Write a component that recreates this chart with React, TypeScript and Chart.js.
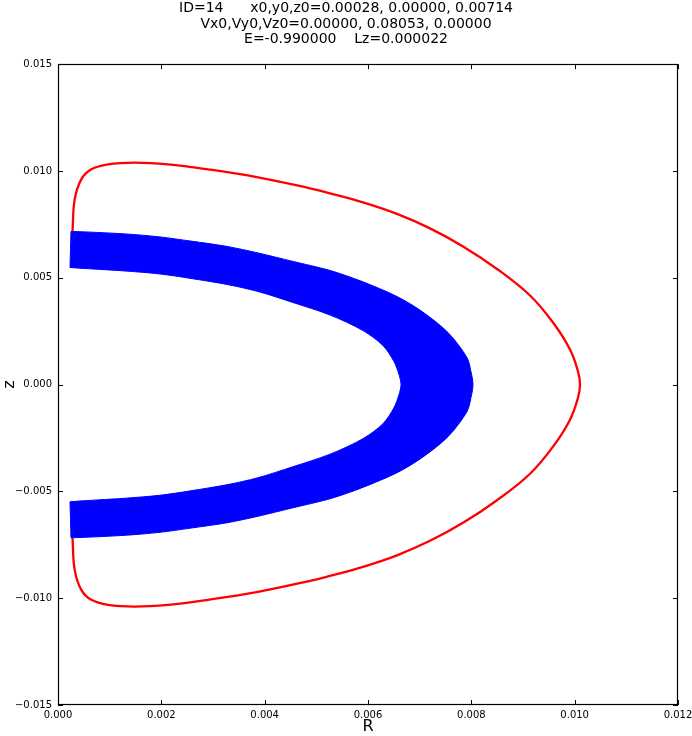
import React, { useEffect, useRef } from "react";
import { Chart, registerables } from "chart.js";

Chart.register(...registerables);

// Title lines
const titleLines = [
  "ID=14      x0,y0,z0=0.00028, 0.00000, 0.00714",
  "Vx0,Vy0,Vz0=0.00000, 0.08053, 0.00000",
  "E=-0.990000    Lz=0.000022",
];

// Axis ticks
const xTickMin = 0;
const xTickMax = 0.012;
const xTickStep = 0.002;
const yTickMin = -0.015;
const yTickMax = 0.015;
const yTickStep = 0.005;

// Red curve (zero-velocity boundary), top half then bottom half
const redR = [
  0.00028, 0.000323, 0.000451, 0.000645, 0.000968, 0.001485, 0.002129, 0.002903, 0.003871, 0.004839,
  0.005265, 0.005903, 0.006561, 0.0072, 0.007839, 0.008497, 0.009136, 0.009581, 0.00991, 0.010065, 0.010103,
  0.010065, 0.00991, 0.009581, 0.009136, 0.008497, 0.007839, 0.0072, 0.006561, 0.005903, 0.005265,
  0.004839, 0.003871, 0.002903, 0.002129, 0.001485, 0.000968, 0.000645, 0.000451, 0.000323, 0.00028,
];
const redZ = [
  0.00714, 0.008672, 0.009609, 0.010078, 0.010313, 0.010392, 0.010313, 0.010078, 0.009703, 0.00921,
  0.008953, 0.008531, 0.007992, 0.007313, 0.006469, 0.005414, 0.004172, 0.002906, 0.001641, 0.000609, 0.0,
  -0.000609, -0.001641, -0.002906, -0.004172, -0.005414, -0.006469, -0.007313, -0.007992, -0.008531, -0.008953,
  -0.00921, -0.009703, -0.010078, -0.010313, -0.010392, -0.010313, -0.010078, -0.009609, -0.008672, -0.00714,
];

// Blue orbit band: outer edge (top -> right -> bottom), ending just down the left edge
const bandOuterR = [
  0.000251, 0.000252, 0.001297, 0.001974, 0.002574, 0.003271, 0.003871, 0.004548, 0.005265, 0.005884, 0.006561,
  0.007045, 0.007548, 0.007916, 0.007993, 0.008032,
  0.007993, 0.007916, 0.007548, 0.007045, 0.006561, 0.005884, 0.005265, 0.004548, 0.003871, 0.003271,
  0.002574, 0.001974, 0.001297, 0.000252, 0.000251,
];
const bandOuterZ = [
  0.00713, 0.007172, 0.007055, 0.006914, 0.006717, 0.006469, 0.006164, 0.005766, 0.005344, 0.004828, 0.004125,
  0.003422, 0.002438, 0.001266, 0.000609, 0.0,
  -0.000609, -0.001266, -0.002438, -0.003422, -0.004125, -0.004828, -0.005344, -0.005766, -0.006164, -0.006469,
  -0.006717, -0.006914, -0.007055, -0.007172, -0.00713,
];
// Blue orbit band: inner edge (bottom -> right -> top)
const bandInnerR = [
  0.000233, 0.000232, 0.001297, 0.001974, 0.002574, 0.003271, 0.003871, 0.004548, 0.005265, 0.005903, 0.00629,
  0.006503, 0.0066, 0.006639,
  0.0066, 0.006503, 0.00629, 0.005903, 0.005265, 0.004548, 0.003871, 0.003271, 0.002574, 0.001974,
  0.001297, 0.000232, 0.000233,
];
const bandInnerZ = [
  -0.00553, -0.005484, -0.00532, -0.00518, -0.004969, -0.004688, -0.004359, -0.003844, -0.003258, -0.002531, -0.001828,
  -0.001078, -0.000469, 0.0,
  0.000469, 0.001078, 0.001828, 0.002531, 0.003258, 0.003844, 0.004359, 0.004688, 0.004969, 0.00518,
  0.00532, 0.005484, 0.00553,
];

const toPts = (xs: number[], ys: number[]) => xs.map((x, i) => ({ x, y: ys[i] }));

const fmt = (v: number) => {
  const s = Number(v).toFixed(3);
  return s.startsWith("-") ? "\u2212" + s.slice(1) : s;
};

const frameTicks = {
  id: "frameTicks",
  afterDatasetsDraw(chart: any) {
    const { ctx, chartArea: a, scales } = chart;
    ctx.save();
    ctx.strokeStyle = "#000";
    ctx.lineWidth = 1;
    ctx.beginPath();
    const len = 5;
    for (const t of scales.x.ticks) {
      const px = Math.round(scales.x.getPixelForValue(t.value)) + 0.5;
      ctx.moveTo(px, a.bottom);
      ctx.lineTo(px, a.bottom - len);
      ctx.moveTo(px, a.top);
      ctx.lineTo(px, a.top + len);
    }
    for (const t of scales.y.ticks) {
      const py = Math.round(scales.y.getPixelForValue(t.value)) + 0.5;
      ctx.moveTo(a.left, py);
      ctx.lineTo(a.left + len, py);
      ctx.moveTo(a.right, py);
      ctx.lineTo(a.right - len, py);
    }
    ctx.stroke();
    ctx.lineWidth = 1.2;
    ctx.strokeRect(Math.round(a.left) + 0.5, Math.round(a.top) + 0.5, Math.round(a.width) - 1, Math.round(a.height) - 1);
    ctx.restore();
  },
};

export default function App() {
  const ref = useRef<HTMLCanvasElement>(null);
  useEffect(() => {
    document.body.style.margin = "0";
    const bandData = toPts(bandOuterR, bandOuterZ).concat(toPts(bandInnerR, bandInnerZ));
    bandData.push({ x: bandOuterR[0], y: bandOuterZ[0] });
    const chart = new Chart(ref.current as HTMLCanvasElement, {
      type: "line",
      data: {
        datasets: [
          {
            data: bandData,
            borderColor: "#0000ff",
            backgroundColor: "#0000ff",
            borderWidth: 1,
            fill: "shape",
            tension: 0.3,
            pointRadius: 0,
          } as any,
          {
            data: toPts(redR, redZ),
            borderColor: "#ff0000",
            borderWidth: 2.3,
            fill: false,
            tension: 0.4,
            pointRadius: 0,
          },
        ],
      },
      options: {
        responsive: false,
        animation: false,
        events: [],
        layout: { padding: { top: 0, left: 0, right: 0, bottom: 0 } },
        plugins: {
          legend: { display: false },
          tooltip: { enabled: false },
          title: {
            display: true,
            text: titleLines,
            color: "#000",
            font: { family: "DejaVu Sans", size: 14, weight: "normal", lineHeight: 1.1 },
            padding: { top: 1, bottom: 17 },
          },
        },
        scales: {
          x: {
            type: "linear",
            min: xTickMin,
            max: xTickMax,
            grid: { display: false, drawTicks: false },
            border: { display: false },
            ticks: {
              stepSize: xTickStep,
              padding: 4,
              color: "#000",
              font: { family: "DejaVu Sans", size: 10 },
              maxRotation: 0,
              callback: (v: any) => fmt(v),
            },
            title: {
              display: true,
              text: "R",
              color: "#000",
              font: { family: "DejaVu Sans", size: 16 },
              padding: { top: 0, bottom: 0 },
            },
            afterFit: (s: any) => {
              s.height = 31;
              s.paddingRight = 14;
              s.paddingLeft = 0;
            },
          },
          y: {
            type: "linear",
            min: yTickMin,
            max: yTickMax,
            grid: { display: false, drawTicks: false },
            border: { display: false },
            ticks: {
              stepSize: yTickStep,
              padding: 6,
              color: "#000",
              font: { family: "DejaVu Sans", size: 10 },
              callback: (v: any) => fmt(v),
            },
            title: {
              display: true,
              text: "z",
              color: "#000",
              font: { family: "DejaVu Sans", size: 16 },
              padding: { top: 0, bottom: 0 },
            },
            afterFit: (s: any) => {
              s.width = 58;
            },
          },
        },
      },
      plugins: [frameTicks],
    });
    return () => chart.destroy();
  }, []);
  return (
    <div style={{ position: "absolute", left: 0, top: 0, width: 692, height: 736, background: "#fff" }}>
      <canvas ref={ref} width={692} height={736} />
    </div>
  );
}
